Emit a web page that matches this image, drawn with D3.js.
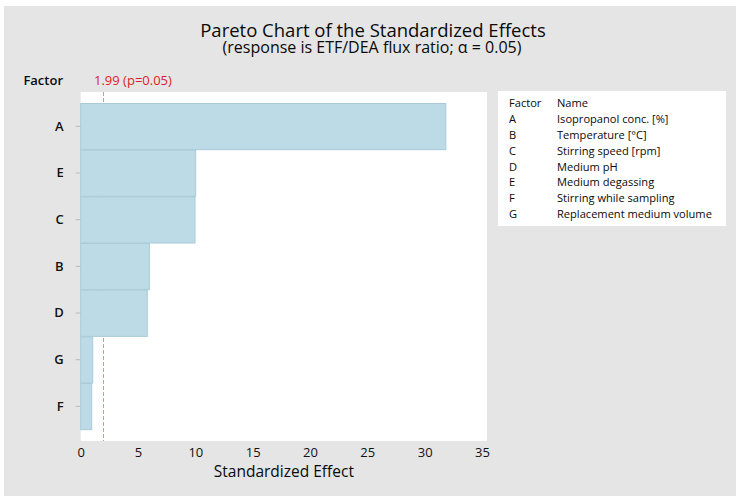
<!DOCTYPE html>
<html><head><meta charset="utf-8">
<script src="https://cdn.jsdelivr.net/npm/d3@7"></script>
<style>html,body{margin:0;padding:0;background:#fff;}svg{display:block;font-family:"Open Sans","Noto Sans",sans-serif;fill:#0a0a0a;}</style>
</head><body>
<script>
const factors = ["A","E","C","B","D","G","F"];
const effects = [31.85, 10.03, 9.97, 5.99, 5.81, 1.05, 0.96];
const xTicks = [0,5,10,15,20,25,30,35];
const critValue = 1.99;
const legendFactors = ["A","B","C","D","E","F","G"];
const legendNames = ["Isopropanol conc. [%]","Temperature [°C]","Stirring speed [rpm]","Medium pH","Medium degassing","Stirring while sampling","Replacement medium volume"];

const W = 743, H = 501;
const svg = d3.select("body").append("svg").attr("width", W).attr("height", H);
svg.append("rect").attr("x",4).attr("y",6).attr("width",732).attr("height",490).attr("fill","#e5e5e5");

const plot = {left:80.7, right:487, top:92, bottom:441};
const x = d3.scaleLinear().domain([0, 35.44]).range([plot.left, plot.right]);
const y = d3.scaleBand().domain(factors).range([103, 429.7]).padding(0);

svg.append("rect").attr("x",plot.left).attr("y",plot.top).attr("width",plot.right-plot.left).attr("height",plot.bottom-plot.top).attr("fill","#fff");

// reference line
svg.append("line").attr("x1",x(critValue)).attr("x2",x(critValue)).attr("y1",plot.top).attr("y2",plot.bottom)
  .attr("stroke","#f08a8a").attr("stroke-width",1).attr("stroke-dasharray","4,2");

// bars
svg.selectAll("rect.bar").data(factors).enter().append("rect").attr("class","bar")
  .attr("x", x(0)).attr("y", d=>y(d)+0.5)
  .attr("width", (d,i)=>x(effects[i])-x(0)).attr("height", y.bandwidth()-0.5)
  .attr("fill","#bddbe6").attr("stroke","#a9cad8").attr("stroke-width",1);

// y axis
const yAxis = d3.axisLeft(y).tickSize(5).tickPadding(12);
const gy = svg.append("g").attr("transform",`translate(${plot.left},0)`).call(yAxis);
gy.select(".domain").remove();
gy.selectAll(".tick line").attr("stroke","#bbb");
gy.selectAll(".tick text").attr("font-size",13).attr("font-weight",600).attr("fill","#111").attr("font-family","Open Sans");

// x axis
const xAxis = d3.axisBottom(x).tickValues(xTicks).tickSize(0).tickPadding(7).tickFormat(d3.format("d"));
const gx = svg.append("g").attr("transform",`translate(0,${plot.bottom})`).call(xAxis);
gx.select(".domain").remove();
gx.selectAll(".tick text").attr("font-size",13).attr("fill","#111").attr("font-family","Open Sans");

svg.append("text").attr("x",(plot.left+plot.right)/2).attr("y",477).attr("text-anchor","middle")
  .attr("font-size",15.5).text("Standardized Effect");

svg.append("text").attr("x",63).attr("y",85).attr("text-anchor","end").attr("font-size",13).attr("font-weight",600).text("Factor");
svg.append("text").attr("x",94).attr("y",85).attr("font-size",13).attr("fill","#dc1f1f").text(`${critValue} (p=0.05)`);

// title
svg.append("text").attr("x",373).attr("y",37).attr("text-anchor","middle").attr("font-size",18.5).text("Pareto Chart of the Standardized Effects");
svg.append("text").attr("x",372).attr("y",53).attr("text-anchor","middle").attr("font-size",16).text("(response is ETF/DEA flux ratio; α = 0.05)");

// legend
const lg = svg.append("g").attr("font-size",11.1);
lg.append("rect").attr("x",498).attr("y",91).attr("width",228).attr("height",135).attr("fill","#fff");
lg.append("text").attr("x",509).attr("y",107).text("Factor");
lg.append("text").attr("x",557).attr("y",107).text("Name");
legendFactors.forEach((f,i)=>{
  lg.append("text").attr("x",509).attr("y",123+i*15.86).text(f);
  lg.append("text").attr("x",557).attr("y",123+i*15.86).text(legendNames[i]);
});
</script>
</body></html>
